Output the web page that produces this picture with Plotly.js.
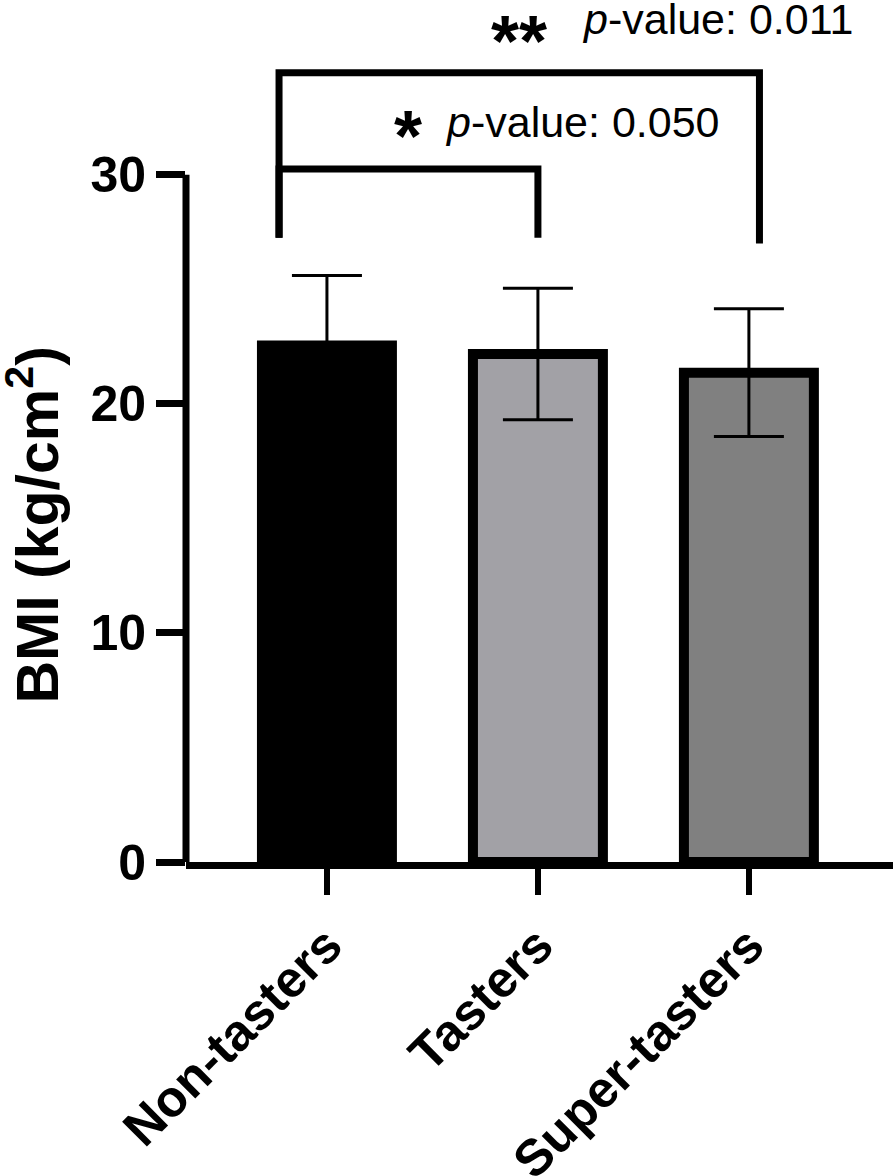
<!DOCTYPE html>
<html>
<head>
<meta charset="utf-8">
<script src="https://cdn.plot.ly/plotly-3.0.1.min.js"></script>
<style>
  body { margin: 0; background: #fff; }
  #chart { width: 893px; height: 1176px; }
</style>
</head>
<body>
<div id="chart"></div>
<script>
// groups and their BMI mean / SD
const groups = ["Non-tasters", "Tasters", "Super-tasters"];
const bmiMean = [22.55, 22.18, 21.36];
const bmiSd = [3.05, 2.87, 2.79];
const barColors = ["#000000", "#a2a1a6", "#808080"];

// significance brackets: which groups are compared and the label
const pairFrom = [0, 0];
const pairTo = [1, 2];
const stars = ["*", "**"];
const pLabels = ["<i>p</i>-value: 0.050", "<i>p</i>-value: 0.011"];

const yTicks = [0, 10, 20, 30];

const font = "Liberation Sans, Arial, Helvetica, sans-serif";

// bracket geometry (data units)
const bracketTop = [30.25, 34.45];
const legBottomLeft = [27.25, 27.25];
const legBottomRight = [27.25, 27.0];
const legShiftLeft = -0.227;
const legShiftRight = [0, 0.05];

let shapes = [];
let annotations = [];

// y axis line only up to 30
shapes.push({
    type: "line", xref: "paper", yref: "y",
    x0: 0, x1: 0, y0: 0, y1: 30,
    line: { color: "#000", width: 7 }
});

for (let i = 0; i < pairFrom.length; i++) {
    const xa = pairFrom[i] + legShiftLeft;
    const xb = pairTo[i] + legShiftRight[i];
    shapes.push({
        type: "path", xref: "x", yref: "y",
        path: `M ${xa},${legBottomLeft[i]} L ${xa},${bracketTop[i]} L ${xb},${bracketTop[i]} L ${xb},${legBottomRight[i]}`,
        line: { color: "#000", width: 7 }
    });
}

// labels above brackets
const labelX = [0.55, 1.20];
const labelY = [32.3, 36.8];
const starX = [0.384, 0.91];
const starY = [31.7, 35.84];
for (let i = 0; i < pLabels.length; i++) {
    annotations.push({
        xref: "x", yref: "y", x: labelX[i], y: labelY[i],
        xanchor: "left", yanchor: "middle", showarrow: false,
        text: pLabels[i],
        font: { family: font, size: 43, color: "#000" }
    });
    annotations.push({
        xref: "x", yref: "y", x: starX[i], y: starY[i],
        xanchor: "center", yanchor: "middle", showarrow: false,
        text: "<b>" + stars[i] + "</b>",
        font: { family: font, size: 72, color: "#000" }
    });
}

// y axis title, centred on the drawn part of the axis (0-30)
annotations.push({
    xref: "paper", yref: "y", x: -0.216, y: 14.7,
    xanchor: "center", yanchor: "middle", showarrow: false,
    textangle: -90,
    text: "<b>BMI (kg/cm<sup>2</sup>)</b>",
    font: { family: font, size: 59, color: "#000" }
});

const data = [{
    type: "bar",
    x: groups,
    y: bmiMean,
    width: 0.616,
    marker: {
        color: barColors,
        line: { color: "#000", width: 10 }
    },
    error_y: {
        type: "data", array: bmiSd, visible: true,
        color: "#000", thickness: 3, width: 35
    },
    hoverinfo: "x+y"
}];

const layout = {
    width: 893,
    height: 1176,
    margin: { l: 186, r: 0, t: 0, b: 313.5 },
    paper_bgcolor: "#fff",
    plot_bgcolor: "#fff",
    showlegend: false,
    font: { family: font, color: "#000" },
    xaxis: {
        range: [-0.668, 2.683],
        showline: true, linecolor: "#000", linewidth: 7,
        ticks: "outside", ticklen: 26, tickwidth: 6, tickcolor: "#000",
        tickangle: -45,
        tickfont: { family: font, size: 51, color: "#000", weight: "bold" },
        showgrid: false, zeroline: false, fixedrange: true
    },
    yaxis: {
        range: [0, 37.63],
        tickmode: "array", tickvals: yTicks, ticktext: yTicks.map(String),
        showline: false,
        ticks: "outside", ticklen: 29, tickwidth: 7, tickcolor: "#000",
        tickfont: { family: font, size: 50, color: "#000", weight: "bold" },
        showgrid: false, zeroline: false, fixedrange: true
    },
    shapes: shapes,
    annotations: annotations
};

Plotly.newPlot("chart", data, layout, { displayModeBar: false, staticPlot: true });
</script>
</body>
</html>
